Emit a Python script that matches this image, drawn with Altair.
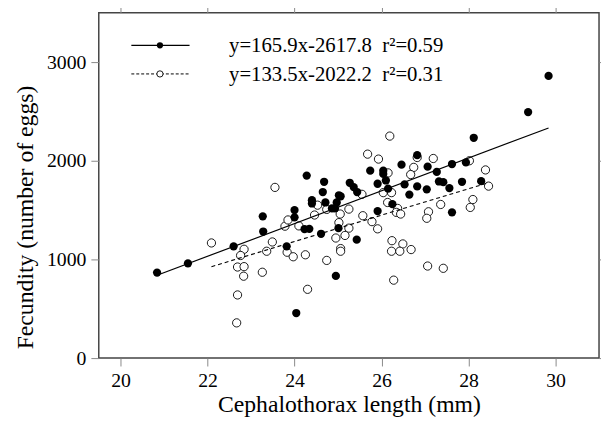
import altair as alt
import pandas as pd

# ---- data ----
black_x = [20.84, 21.55, 22.60, 23.27, 23.28, 23.82, 24.00, 24.00, 24.04, 24.28,
           24.68, 24.65, 24.40, 24.40, 24.71, 24.86, 24.93, 24.97, 25.02, 25.06,
           25.27, 25.36, 25.44, 25.74, 26.04, 26.04, 26.10, 25.91, 26.15, 26.46,
           26.82, 26.53, 26.82, 26.64, 27.04, 27.06, 27.27, 27.32, 27.42, 27.56,
           27.62, 27.85, 27.94, 28.12, 28.29, 26.25, 25.91, 27.62, 25.01, 24.61,
           24.23, 24.34, 25.43, 24.95, 29.37, 29.84]
black_y = [867, 960, 1133, 1437, 1283, 1133, 1500, 1427, 457, 1850,
           1787, 1683, 1600, 1567, 1577, 1517, 1517, 1577, 1650, 1640,
           1777, 1733, 1683, 1900, 1900, 1867, 1800, 1767, 1717, 1960,
           2057, 1760, 1740, 1657, 1710, 1940, 1887, 1790, 1783, 1723,
           1967, 1787, 1983, 2233, 1793, 1560, 1490, 1477, 1317, 1260,
           1307, 1310, 1200, 833, 2493, 2860]

open_x = [23.55, 22.09, 22.84, 22.76, 22.69, 22.84, 22.83, 23.26, 23.49, 23.36,
          23.78, 23.85, 23.83, 23.97, 22.69, 22.67, 24.30, 24.74, 26.19, 25.68,
          25.93, 26.82, 27.19, 26.74, 26.67, 26.15, 25.55, 26.04, 26.23, 26.14,
          26.37, 26.34, 26.44, 24.53, 24.74, 25.25, 24.46, 25.05, 24.10, 25.02,
          25.25, 25.57, 25.78, 25.91, 25.16, 24.95, 25.06, 25.06, 24.25, 26.24,
          26.49, 26.23, 26.42, 26.68, 27.08, 27.04, 27.36, 28.04, 28.10, 28.39,
          28.46, 28.02, 27.06, 27.42, 26.28]
open_y = [1730, 1167, 1103, 1040, 923, 927, 830, 870, 1177, 1083,
          1337, 1400, 1073, 1027, 640, 357, 697, 990, 2250, 2067,
          2017, 2033, 2023, 1933, 1860, 1877, 1660, 1677, 1677, 1577,
          1517, 1477, 1460, 1550, 1507, 1510, 1450, 1460, 1340, 1373,
          1317, 1443, 1383, 1310, 1243, 1217, 1110, 1083, 1047, 1190,
          1157, 1083, 1083, 1100, 1483, 1417, 1557, 1527, 1607, 1907,
          1743, 2000, 933, 910, 790]

# regression equations shown in the legend
slope_black, icpt_black = 165.9, -2617.8
slope_open, icpt_open = 133.5, -2022.2
legend_labels = ["y=165.9x-2617.8\u00a0\u00a0r\u00b2=0.59",
                 "y=133.5x-2022.2\u00a0\u00a0r\u00b2=0.31"]

x_ticks = [20, 22, 24, 26, 28, 30]
y_ticks = [0, 1000, 2000, 3000]

FONT = "Liberation Serif"

black_df = pd.DataFrame({"x": black_x, "y": black_y})
open_df = pd.DataFrame({"x": open_x, "y": open_y})

bx = [min(black_x), max(black_x)]
ox = [min(open_x), max(open_x)]
line_black = pd.DataFrame({"x": bx, "y": [slope_black * v + icpt_black for v in bx]})
line_open = pd.DataFrame({"x": ox, "y": [slope_open * v + icpt_open for v in ox]})

xscale = alt.Scale(domain=[19.5, 31], nice=False, zero=False)
yscale = alt.Scale(domain=[0, 3500], nice=False)

axis_common = dict(tickSize=8, tickColor="#888888", tickWidth=1, domain=False,
                   grid=False, labelFont=FONT, labelFontSize=20, labelColor="black",
                   titleFont=FONT, titleFontSize=24, titleColor="black",
                   titleFontWeight="normal")

x_bottom = alt.Axis(orient="bottom", values=x_ticks, title="Cephalothorax length (mm)",
                    format="d", labelPadding=5, titlePadding=2, **axis_common)
y_left = alt.Axis(orient="left", values=y_ticks, title="Fecundity (number of eggs)",
                  format="d", labelPadding=5, titleAngle=270, titleX=-62, titleY=207,
                  titleAlign="center", titleBaseline="bottom", **axis_common)
x_top = alt.Axis(orient="top", values=x_ticks, labels=False, title="", **axis_common)
y_right = alt.Axis(orient="right", values=y_ticks, labels=False, title="", **axis_common)

open_layer = alt.Chart(open_df).mark_point(
    shape="circle", filled=False, fill="white", stroke="black", strokeWidth=0.9, size=70, opacity=1
).encode(
    x=alt.X("x:Q", scale=xscale, axis=x_bottom),
    y=alt.Y("y:Q", scale=yscale, axis=y_left),
)

black_layer = alt.Chart(black_df).mark_circle(color="black", size=70, opacity=1).encode(
    x=alt.X("x:Q", scale=xscale, axis=x_top),
    y=alt.Y("y:Q", scale=yscale, axis=y_right),
)

lb = alt.Chart(line_black).mark_line(color="black", strokeWidth=1.2).encode(
    x=alt.X("x:Q", scale=xscale, axis=None),
    y=alt.Y("y:Q", scale=yscale, axis=None),
)
lo = alt.Chart(line_open).mark_line(color="black", strokeWidth=1.1, strokeDash=[4, 3]).encode(
    x=alt.X("x:Q", scale=xscale, axis=None),
    y=alt.Y("y:Q", scale=yscale, axis=None),
)

# legend (pixel positions inside plot area)
leg1 = pd.DataFrame({"label": [legend_labels[0]]})
leg2 = pd.DataFrame({"label": [legend_labels[1]]})

rule1 = alt.Chart(leg1).mark_rule(color="black", strokeWidth=1.2).encode(
    x=alt.value(33), x2=alt.value(92), y=alt.value(33))
rule2 = alt.Chart(leg2).mark_rule(color="black", strokeWidth=1, strokeDash=[3, 2]).encode(
    x=alt.value(33), x2=alt.value(92), y=alt.value(62))
pt1 = alt.Chart(leg1).mark_circle(color="black", size=40, opacity=1).encode(
    x=alt.value(62), y=alt.value(33))
pt2 = alt.Chart(leg2).mark_point(shape="circle", filled=False, fill="white", stroke="black",
                                 strokeWidth=0.9, size=40, opacity=1).encode(
    x=alt.value(62), y=alt.value(62))
txt1 = alt.Chart(leg1).mark_text(font=FONT, fontSize=21, align="left", baseline="alphabetic",
                                 color="black").encode(
    x=alt.value(132), y=alt.value(40), text="label:N")
txt2 = alt.Chart(leg2).mark_text(font=FONT, fontSize=21, align="left", baseline="alphabetic",
                                 color="black").encode(
    x=alt.value(132), y=alt.value(69), text="label:N")

chart = alt.layer(
    open_layer, black_layer, lb, lo, rule1, rule2, pt1, pt2, txt1, txt2
).resolve_axis(x="independent", y="independent").properties(
    width=507, height=350,
    autosize=alt.AutoSizeParams(type="none"),
    padding={"left": 92, "top": 2, "right": 2, "bottom": 66},
).configure_axis(
    labelFont=FONT, titleFont=FONT
).configure_text(
    font=FONT
).configure_view(
    stroke="#444444", strokeWidth=1.5
)

chart.save("out.html", embed_options={"renderer": "svg", "actions": False})
